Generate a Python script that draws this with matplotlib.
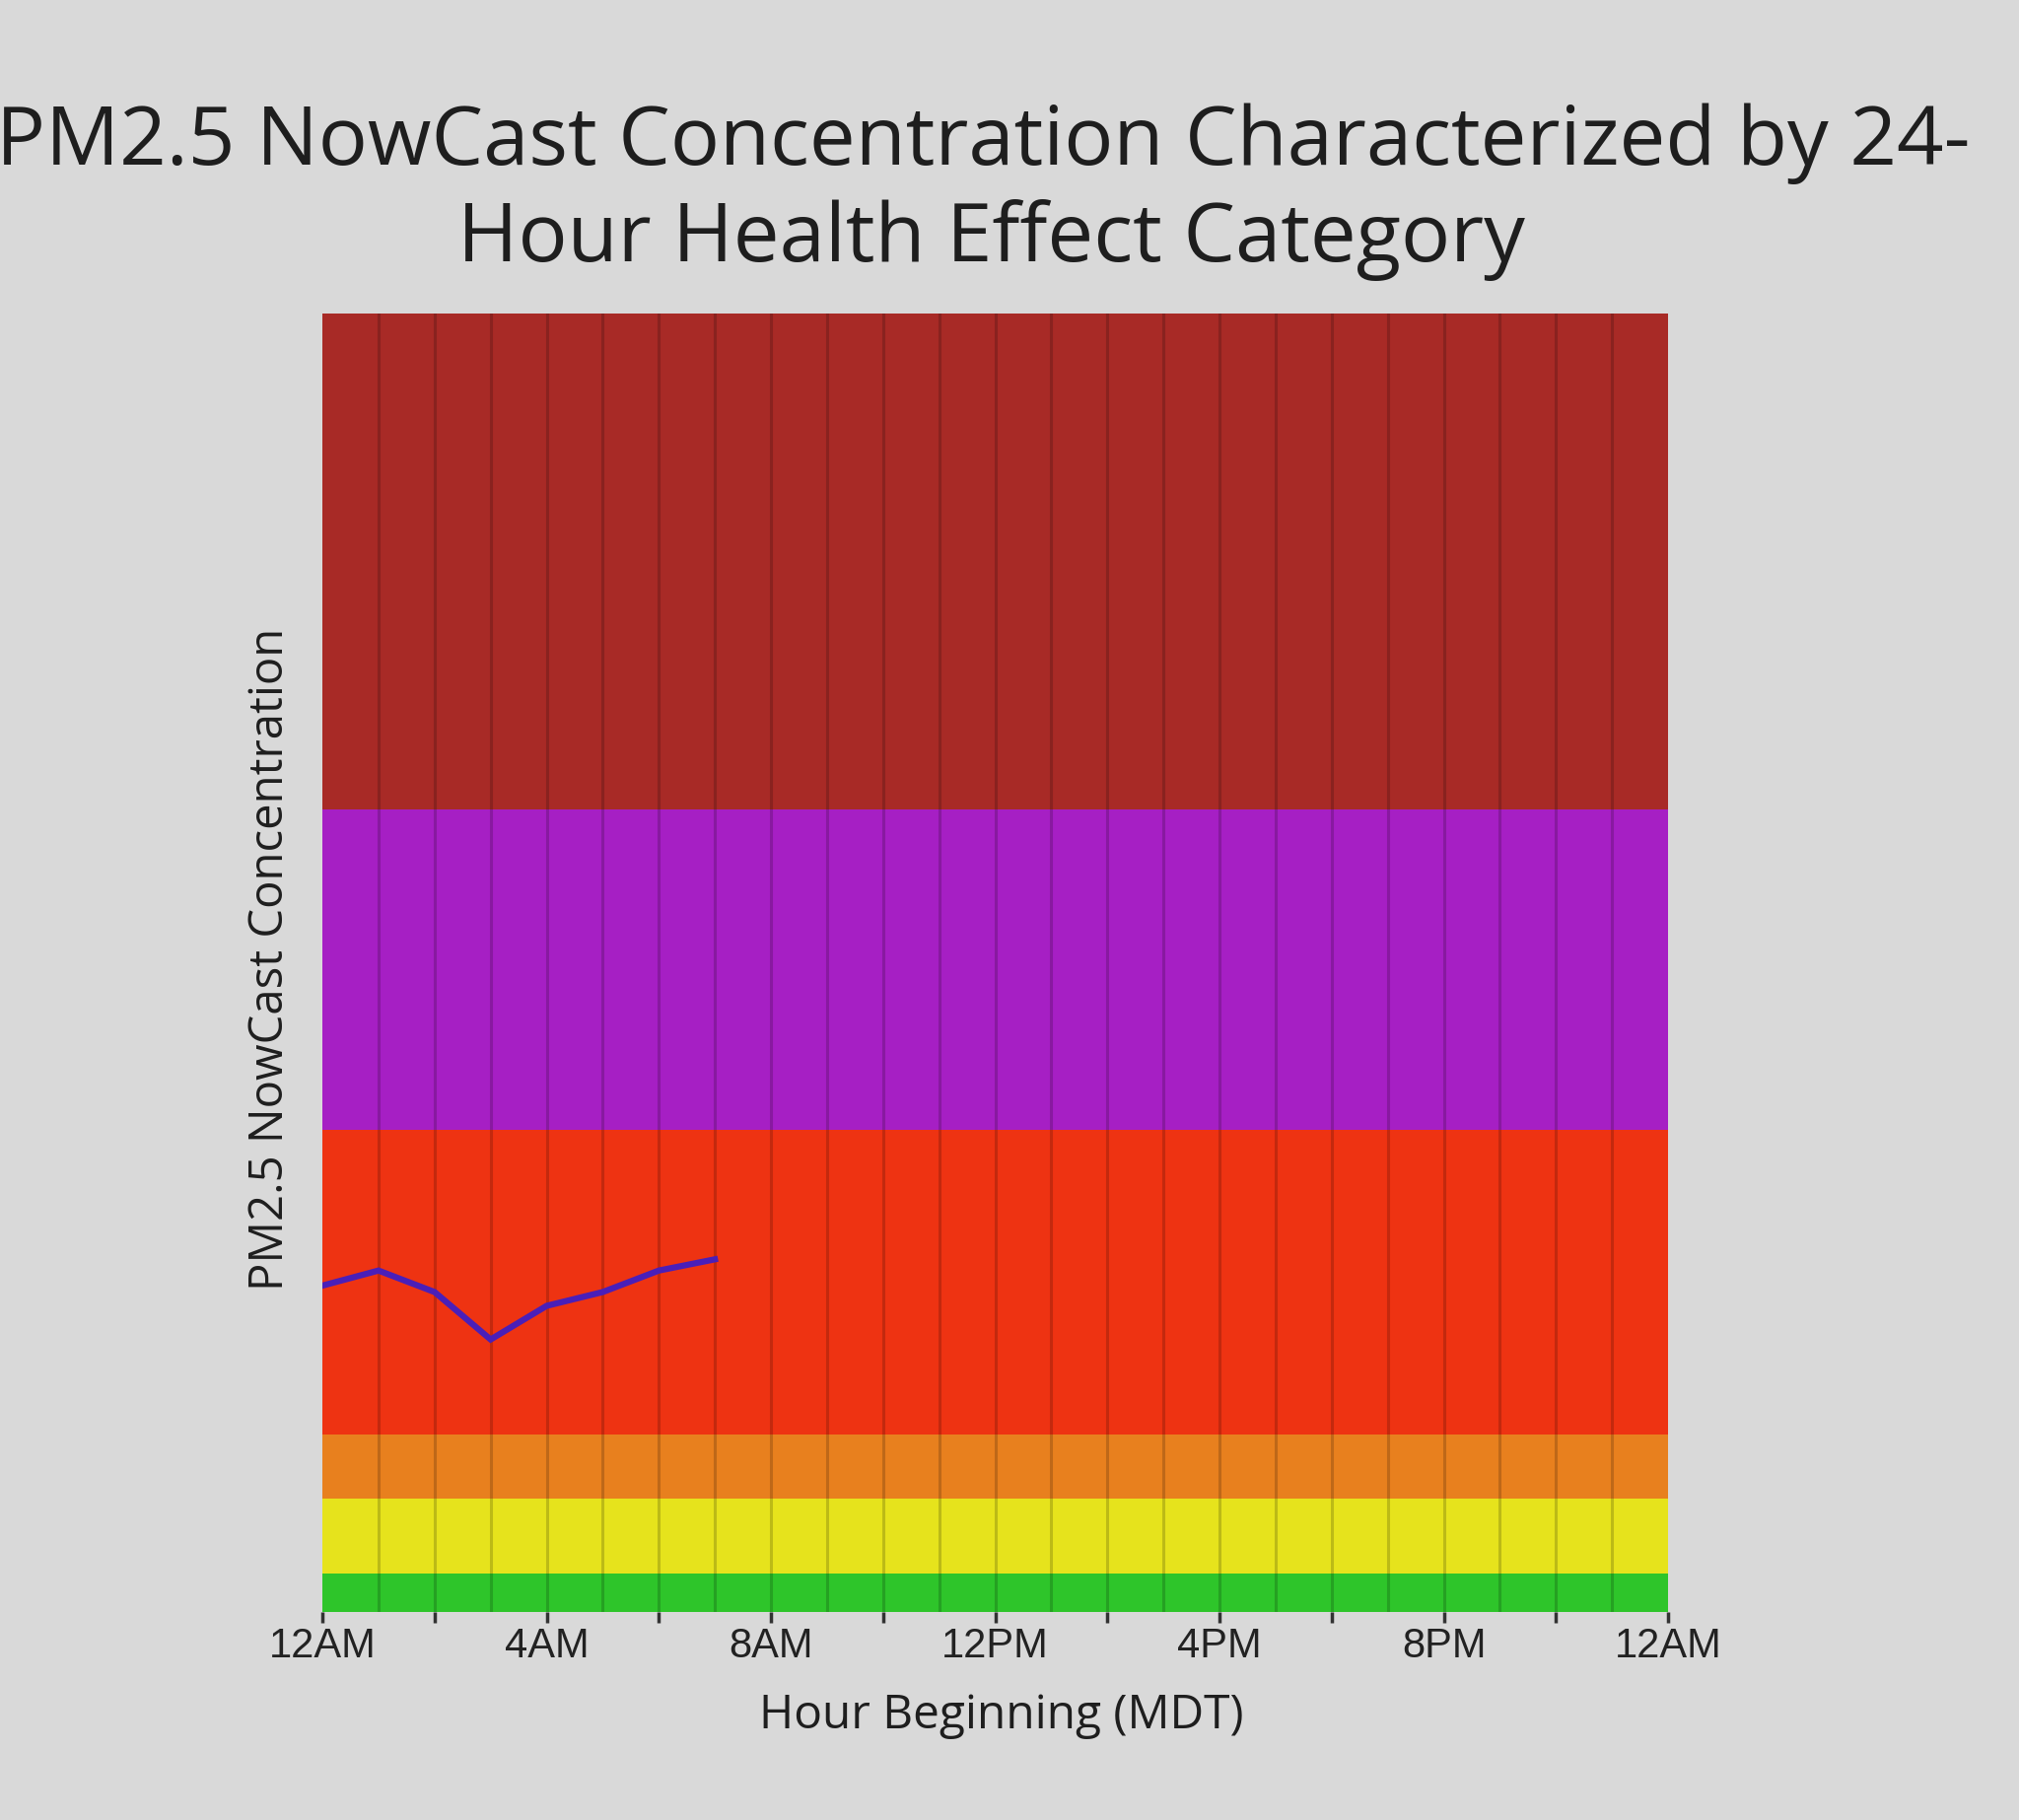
import matplotlib
matplotlib.use("Agg")
import matplotlib.pyplot as plt
import numpy as np

# ---- data ----
band_edges = [0, 12.0, 35.4, 55.4, 150.4, 250.4, 405]
band_names = ["Good", "Moderate", "Unhealthy for Sensitive Groups", "Unhealthy", "Very Unhealthy", "Hazardous"]
band_colors = ["#2ec52a", "#e6e31c", "#e8801e", "#ee3312", "#a61fc4", "#a82a26"]

hours = [0, 1, 2, 3, 4, 5, 6, 7]
nowcast = [101.8, 106.5, 99.8, 85.0, 95.5, 99.8, 106.5, 110.0]

tick_hours = [0, 4, 8, 12, 16, 20, 24]
tick_labels = ["12AM", "4AM", "8AM", "12PM", "4PM", "8PM", "12AM"]

title_line1 = "PM2.5 NowCast Concentration Characterized by 24-"
title_line2 = "Hour Health Effect Category"
ylabel = "PM2.5 NowCast Concentration"
xlabel = "Hour Beginning (MDT)"

bg = "#d9d9d9"
fig = plt.figure(figsize=(20.48, 18.46), dpi=100, facecolor=bg)
ax = fig.add_axes([0.1597, 0.1143, 0.6665, 0.7134])
ax.set_facecolor(bg)

for lo, hi, c in zip(band_edges[:-1], band_edges[1:], band_colors):
    ax.axhspan(lo, hi, color=c, lw=0, zorder=0)

for h in range(1, 24):
    ax.axvline(h, color="black", alpha=0.18, lw=2.2, zorder=1)

ax.plot(hours, nowcast, color="#4a1fb8", lw=4.5, zorder=3, solid_joinstyle="miter")

ax.set_xlim(0, 24)
ax.set_ylim(band_edges[0], band_edges[-1])
ax.set_xticks(tick_hours)
ax.set_xticklabels(tick_labels, fontfamily="Liberation Sans", fontsize=30, color="#222222")
ax.set_xticks(np.arange(0, 25, 2), minor=True)
ax.tick_params(axis="x", which="both", length=8, width=2.5, color="#333333", pad=3, direction="out")
ax.set_yticks([])
for s in ax.spines.values():
    s.set_visible(False)

fig.text(0.487, 1 - 167 / 1846, title_line1, ha="center", va="baseline",
         fontfamily="Open Sans", fontsize=60, color="#1e1e1e")
fig.text(0.491, 1 - 265 / 1846, title_line2, ha="center", va="baseline",
         fontfamily="Open Sans", fontsize=60, color="#1e1e1e")
fig.text(0.134, 1 - 973 / 1846, ylabel, rotation=90, ha="center", va="center",
         fontfamily="Open Sans", fontsize=34, color="#1e1e1e")
fig.text(0.496, 1 - 1740 / 1846, xlabel, ha="center", va="center",
         fontfamily="Open Sans", fontsize=34.5, color="#1e1e1e")

fig.savefig("out.png", dpi=100, facecolor=bg)
